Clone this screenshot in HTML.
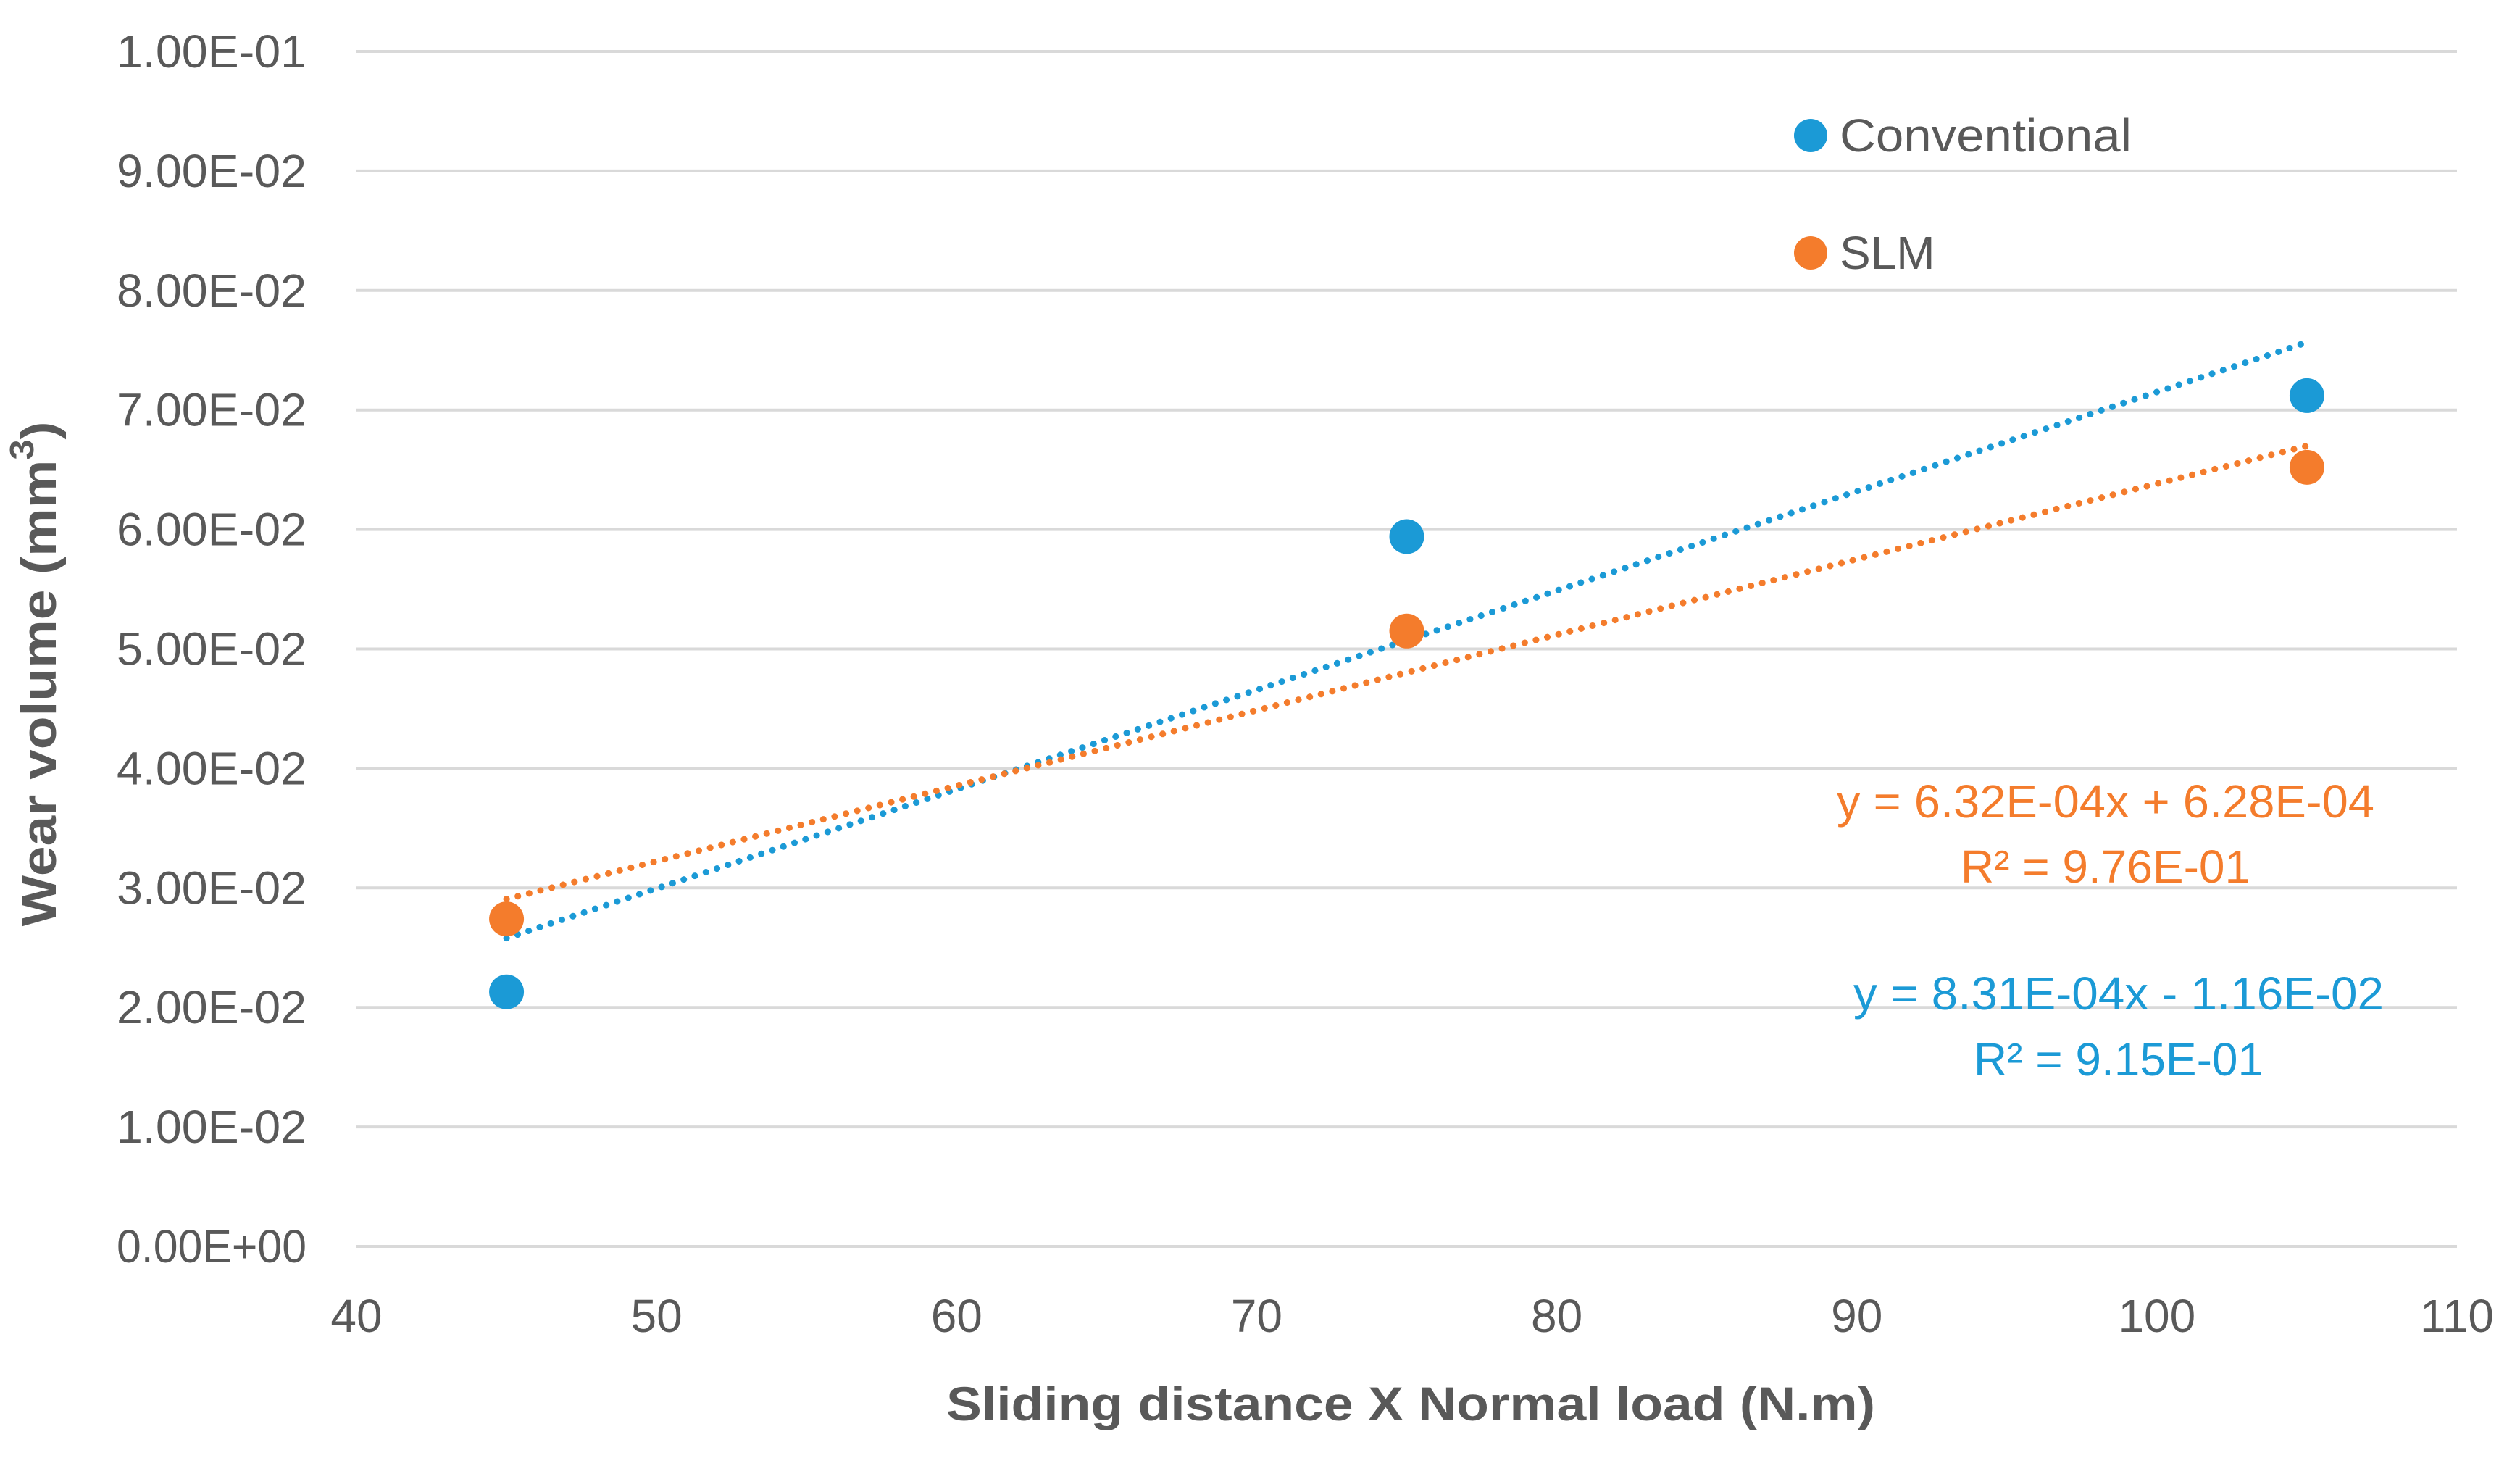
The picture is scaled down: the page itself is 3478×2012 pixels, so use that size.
<!DOCTYPE html>
<html><head><meta charset="utf-8"><style>
html,body{margin:0;padding:0;background:#fff;}
svg{display:block;font-family:"Liberation Sans",sans-serif;}
</style></head><body>
<svg id="chart" width="3478" height="2012" viewBox="0 0 3478 2012" xmlns="http://www.w3.org/2000/svg">
<g id="grid"></g>
<g id="yticks"></g>
<g id="xticks"></g>
<g id="trends"></g>
<g id="points"></g>
<text x="1947" y="1937" text-anchor="middle" dominant-baseline="central" font-size="66" font-weight="bold" fill="#595959" textLength="1282" lengthAdjust="spacingAndGlyphs">Sliding distance X Normal load  (N.m)</text>
<text transform="translate(54,930) rotate(-90)" text-anchor="middle" dominant-baseline="central" font-size="68" font-weight="bold" fill="#595959" textLength="697" lengthAdjust="spacingAndGlyphs">Wear volume (mm<tspan dy="-24" font-size="46">3</tspan><tspan dy="24">)</tspan></text>
<g>
<circle cx="2499" cy="187" r="23" fill="#1b9ad6"/>
<text x="2539" y="187" dominant-baseline="central" font-size="64" fill="#595959" textLength="403" lengthAdjust="spacingAndGlyphs">Conventional</text>
<circle cx="2499" cy="349" r="23" fill="#f47c2c"/>
<text x="2539" y="349" dominant-baseline="central" font-size="64" fill="#595959">SLM</text>
</g>
<g fill="#f47c2c" font-size="64" text-anchor="middle">
<text x="2906" y="1106" dominant-baseline="central" textLength="742" lengthAdjust="spacingAndGlyphs">y = 6.32E-04x + 6.28E-04</text>
<text x="2906" y="1196" dominant-baseline="central">R² = 9.76E-01</text>
</g>
<g fill="#1b9ad6" font-size="64" text-anchor="middle">
<text x="2924" y="1371" dominant-baseline="central" textLength="732" lengthAdjust="spacingAndGlyphs">y = 8.31E-04x - 1.16E-02</text>
<text x="2924" y="1462" dominant-baseline="central">R² = 9.15E-01</text>
</g>
</svg>
<script>
const yTicks = [0, 0.01, 0.02, 0.03, 0.04, 0.05, 0.06, 0.07, 0.08, 0.09, 0.1];
const yTickLabels = ["0.00E+00","1.00E-02","2.00E-02","3.00E-02","4.00E-02","5.00E-02","6.00E-02","7.00E-02","8.00E-02","9.00E-02","1.00E-01"];
const xTicks = [40, 50, 60, 70, 80, 90, 100, 110];
const xValues = [45, 75, 105];
const conventionalValues = [0.0213, 0.0594, 0.0712];
const slmValues = [0.0274, 0.0515, 0.0652];
const conventionalFit = [8.31e-4, -1.16e-2];
const slmFit = [6.32e-4, 6.28e-4];

const X0 = 492, X1 = 3391, Y0 = 1720, Y1 = 71;
function sx(v){ return X0 + (v - 40) / 70 * (X1 - X0); }
function sy(v){ return Y0 - v / 0.1 * (Y0 - Y1); }
const NS = "http://www.w3.org/2000/svg";
function mk(tag, parent, attrs){
  const e = document.createElementNS(NS, tag);
  for (const k in attrs) e.setAttribute(k, attrs[k]);
  parent.appendChild(e); return e;
}
const grid = document.getElementById('grid');
const yt = document.getElementById('yticks');
yTicks.forEach((v, i) => {
  const l = mk('line', grid, {x1: X0, x2: X1, y1: sy(v), y2: sy(v), stroke: '#d9d9d9', 'stroke-width': 4});
  
  
  const t = mk('text', yt, {x: 423, y: sy(v), 'text-anchor': 'end', 'dominant-baseline': 'central', 'font-size': 64, fill: '#595959', textLength: 262, lengthAdjust: 'spacingAndGlyphs'});
  
  
  t.textContent = yTickLabels[i];
});
const xt = document.getElementById('xticks');
xTicks.forEach(v => {
  const t = mk('text', xt, {x: sx(v), y: 1816, 'text-anchor': 'middle', 'dominant-baseline': 'central', 'font-size': 64, fill: '#595959'});
  
  
  t.textContent = v;
});
const trends = document.getElementById('trends');
function trend(fit, color, name){
  const xa = xValues[0], xb = xValues[xValues.length - 1];
  const l = mk('line', trends, {x1: sx(xa), y1: sy(fit[0]*xa + fit[1]), x2: sx(xb), y2: sy(fit[0]*xb + fit[1]), stroke: color, 'stroke-width': 9, 'stroke-dasharray': '0.1 16', 'stroke-linecap': 'round'});
  
  
}
trend(conventionalFit, '#1b9ad6', 'conventional-trendline');
trend(slmFit, '#f47c2c', 'slm-trendline');
const pts = document.getElementById('points');
function series(vals, color, name){
  vals.forEach((v, i) => {
    const c = mk('circle', pts, {cx: sx(xValues[i]), cy: sy(v), r: 24, fill: color});
    
    
  });
}
series(conventionalValues, '#1b9ad6', 'conventional-point');
series(slmValues, '#f47c2c', 'slm-point');
</script>
</body></html>
